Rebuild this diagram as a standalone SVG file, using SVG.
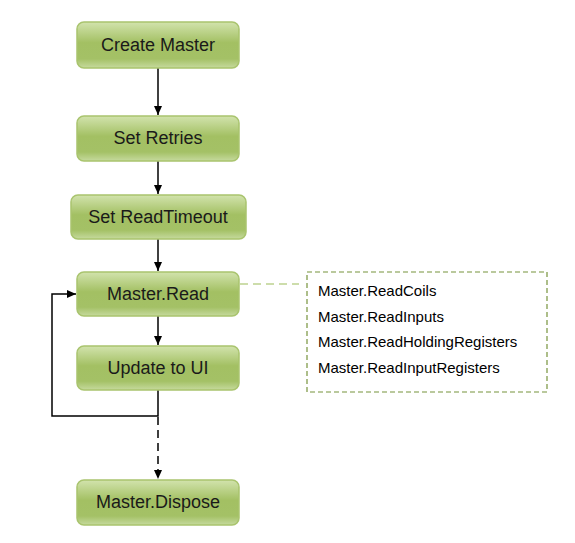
<svg xmlns="http://www.w3.org/2000/svg" width="575" height="543" viewBox="0 0 575 543">
<defs>
<linearGradient id="g" x1="0" y1="0" x2="0" y2="1">
<stop offset="0" stop-color="#d2e3ad"/>
<stop offset="0.45" stop-color="#a3c063"/>
<stop offset="0.8" stop-color="#a4c166"/>
<stop offset="1" stop-color="#c6da9e"/>
</linearGradient>
<marker id="ah" markerWidth="10" markerHeight="10" refX="9" refY="5" orient="auto" markerUnits="userSpaceOnUse">
<path d="M0,1 L9,5 L0,9 Z" fill="#000"/>
</marker>
<style>
.box{fill:url(#g);stroke:#a9c46e;stroke-width:1.5}
.lbl{font-family:"Liberation Sans",Arial,sans-serif;font-size:18px;fill:#1a1a1a;text-anchor:middle}
.c{fill:none;stroke:#000;stroke-width:1.5}
.note{font-family:"Liberation Sans",Arial,sans-serif;font-size:15px;fill:#000}
</style>
</defs>
<rect width="575" height="543" fill="#fff"/>
<g id="connectors">
<line class="c" x1="158" y1="68" x2="158" y2="115" marker-end="url(#ah)"/>
<line class="c" x1="158" y1="161" x2="158" y2="194" marker-end="url(#ah)"/>
<line class="c" x1="158" y1="239" x2="158" y2="271" marker-end="url(#ah)"/>
<line class="c" x1="158" y1="316" x2="158" y2="345" marker-end="url(#ah)"/>
<polyline class="c" points="158,390 158,416 52,416 52,294 76,294" marker-end="url(#ah)"/>
<line class="c" x1="158" y1="417" x2="158" y2="479" stroke-dasharray="8,5" marker-end="url(#ah)"/>
<line x1="240" y1="284" x2="299" y2="284" stroke="#9bbb59" stroke-width="1.2" stroke-dasharray="8,5"/>
</g>
<g id="create-master"><rect class="box" x="77" y="22" width="162" height="46" rx="7"/><text class="lbl" x="158" y="51">Create Master</text></g>
<g id="set-retries"><rect class="box" x="77" y="116" width="162" height="45" rx="7"/><text class="lbl" x="158" y="144">Set Retries</text></g>
<g id="set-readtimeout"><rect class="box" x="71" y="195" width="175" height="44" rx="7"/><text class="lbl" x="158" y="223">Set ReadTimeout</text></g>
<g id="master-read"><rect class="box" x="77" y="272" width="162" height="44" rx="7"/><text class="lbl" x="158" y="300">Master.Read</text></g>
<g id="update-ui"><rect class="box" x="77" y="346" width="162" height="44" rx="7"/><text class="lbl" x="158" y="374">Update to UI</text></g>
<g id="master-dispose"><rect class="box" x="77" y="480" width="162" height="45" rx="7"/><text class="lbl" x="158" y="508">Master.Dispose</text></g>
<g id="read-methods">
<rect x="307" y="272" width="240" height="120" fill="none" stroke="#77933c" stroke-width="1.2" stroke-dasharray="5,3"/>
<text class="note" x="318" y="296">Master.ReadCoils</text>
<text class="note" x="318" y="322">Master.ReadInputs</text>
<text class="note" x="318" y="347">Master.ReadHoldingRegisters</text>
<text class="note" x="318" y="373">Master.ReadInputRegisters</text>
</g>
</svg>
